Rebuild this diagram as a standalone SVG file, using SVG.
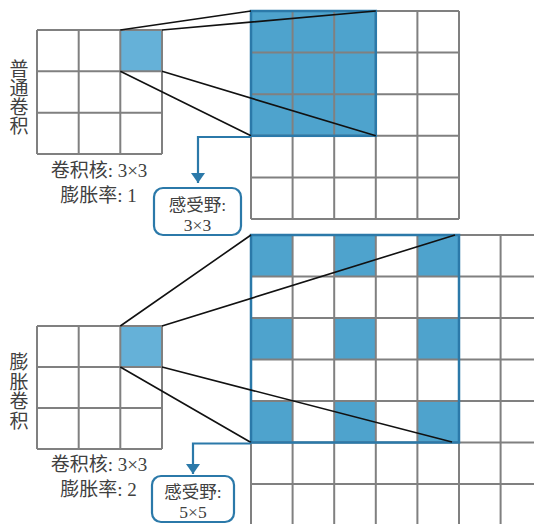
<svg xmlns="http://www.w3.org/2000/svg" width="534" height="524" viewBox="0 0 534 524">
<style>
.g{fill:none;stroke:#808080;stroke-width:2}
.bc{fill:#4ea3cd}
.lc{fill:#65b1d8}
.bo{fill:none;stroke:#2b79a9;stroke-width:2.5}
.ln{stroke:#111;stroke-width:1.6;fill:none}
.ar{stroke:#2b79a9;stroke-width:2.2;fill:none}
.box{fill:#fff;stroke:#2b79a9;stroke-width:2.2}
.t{font-family:"Liberation Serif","Noto Sans CJK SC",serif;font-size:19px;fill:#404040;text-anchor:middle}
.bt{font-size:17.5px}
</style>
<defs>
<marker id="ah" viewBox="0 0 10 14" refX="10" refY="7" markerWidth="10" markerHeight="14" markerUnits="userSpaceOnUse" orient="auto">
<path d="M0,0 L10,7 L0,14 Z" fill="#2b79a9"/>
</marker>
</defs>
<rect width="534" height="524" fill="#fff"/>

<!-- Top: normal convolution -->
<g id="top-kernel">
<rect class="lc" x="120.3" y="30" width="41.7" height="41.3"/>
<path class="g" d="M37,30H162M37,71.3H162M37,112.7H162M37,154H162M37,30V154M78.7,30V154M120.3,30V154M162,30V154"/>
</g>
<g id="top-input">
<rect class="bc" x="251" y="11" width="124.8" height="124.8"/>
<path class="g" d="M251,11H459M251,52.6H459M251,94.2H459M251,135.8H459M251,177.4H459M251,219H459M251,11V219M292.6,11V219M334.2,11V219M375.8,11V219M417.4,11V219M459,11V219"/>
<rect class="bo" x="251" y="11" width="124.8" height="124.8"/>
</g>
<g id="top-labels">
<text class="t" x="19" y="75.5">普</text>
<text class="t" x="19" y="94.5">通</text>
<text class="t" x="19" y="113.5">卷</text>
<text class="t" x="19" y="132.5">积</text>
<text class="t" x="99" y="177">卷积核: 3×3</text>
<text class="t" x="98.5" y="202">膨胀率: 1</text>
</g>
<g id="top-rf">
<rect class="box" x="154" y="188" width="87" height="47" rx="9"/>
<text class="t bt" x="197.5" y="210.5">感受野:</text>
<text class="t bt" x="197.5" y="230.5">3×3</text>
</g>

<!-- Bottom: dilated convolution -->
<g id="bottom-kernel">
<rect class="lc" x="120.3" y="326" width="41.7" height="41"/>
<path class="g" d="M37,326H162M37,367H162M37,408H162M37,449H162M37,326V449M78.7,326V449M120.3,326V449M162,326V449"/>
</g>
<g id="bottom-input">
<rect class="bc" x="251" y="235" width="41.6" height="41.5"/>
<rect class="bc" x="334.2" y="235" width="41.6" height="41.5"/>
<rect class="bc" x="417.4" y="235" width="41.6" height="41.5"/>
<rect class="bc" x="251" y="318" width="41.6" height="41.5"/>
<rect class="bc" x="334.2" y="318" width="41.6" height="41.5"/>
<rect class="bc" x="417.4" y="318" width="41.6" height="41.5"/>
<rect class="bc" x="251" y="401" width="41.6" height="41.5"/>
<rect class="bc" x="334.2" y="401" width="41.6" height="41.5"/>
<rect class="bc" x="417.4" y="401" width="41.6" height="41.5"/>
<path class="g" d="M251,235H534M251,276.5H534M251,318H534M251,359.5H534M251,401H534M251,442.5H534M251,484H534M251,235V524M292.6,235V524M334.2,235V524M375.8,235V524M417.4,235V524M459,235V524M500.6,235V524"/>
<rect class="bo" x="251" y="235" width="208" height="207.5"/>
</g>
<g id="bottom-labels">
<text class="t" x="19" y="369">膨</text>
<text class="t" x="19" y="388.5">胀</text>
<text class="t" x="19" y="408">卷</text>
<text class="t" x="19" y="427.5">积</text>
<text class="t" x="99" y="471">卷积核: 3×3</text>
<text class="t" x="98.5" y="496">膨胀率: 2</text>
</g>
<g id="bottom-rf">
<rect class="box" x="152" y="476" width="82" height="46" rx="9"/>
<text class="t bt" x="193" y="497.5">感受野:</text>
<text class="t bt" x="193" y="517.5">5×5</text>
</g>

<g id="connectors">
<path class="ln" d="M120.3,30L251,11M162,30L375.8,11M120.3,71.3L251,135.8M162,71.3L375.8,135.8"/>
<path class="ln" d="M120.3,326L251,235M162,326L455,235M120.3,367L251,442.5M162,367L452,442"/>
<path class="ar" d="M251,137H198V183" marker-end="url(#ah)"/>
<path class="ar" d="M251,443.5H193V474" marker-end="url(#ah)"/>
</g>
</svg>
